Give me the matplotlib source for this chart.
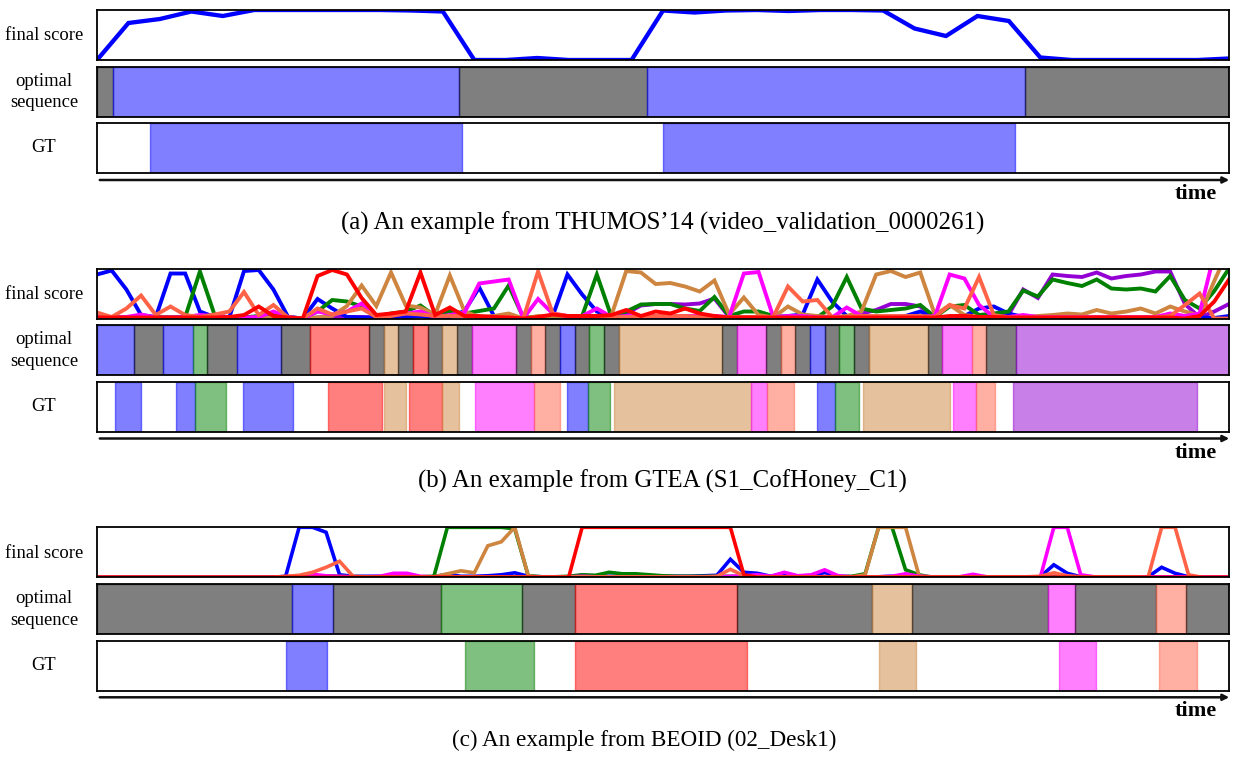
import numpy as np
import matplotlib.pyplot as plt

plt.rcParams['font.family'] = ['Liberation Serif', 'DejaVu Serif']

# ---------------- data ----------------
# class -> base colour (segments are drawn at alpha 0.5)
cls_color = {'bg': 'black', 'blue': 'blue', 'green': 'green', 'red': 'red',
             'peru': 'peru', 'magenta': 'magenta', 'tomato': 'tomato',
             'purple': 'darkviolet'}
line_order = ['purple', 'blue', 'green', 'peru', 'magenta', 'tomato', 'red']

# (a) THUMOS'14, 37 snippets
score_a = {'blue': [0.00, 0.74, 0.82, 0.97, 0.88, 1.00, 1.00, 1.00, 1.00, 1.00,
                    0.99, 0.97, 0.00, 0.00, 0.04, 0.00, 0.00, 0.00, 0.99, 0.95,
                    0.99, 1.00, 0.98, 1.00, 1.00, 0.99, 0.63, 0.48, 0.88, 0.78,
                    0.05, 0.00, 0.00, 0.00, 0.00, 0.00, 0.03]}
opt_a = [(0, 0.5, 'bg'), (0.5, 11.5, 'blue'), (11.5, 17.5, 'bg'),
         (17.5, 29.5, 'blue'), (29.5, 36, 'bg')]
gt_a = [(1.7, 11.6, 'blue'), (18.0, 29.2, 'blue')]

# (b) GTEA S1_CofHoney_C1, 78 snippets
blue_b = [0.88, 0.96, 0.58, 0.07, 0.03, 0.90, 0.90, 0.14, 0.03, 0.02,
          0.95, 0.97, 0.58, 0.03, 0.00, 0.39, 0.20, 0.03, 0.02, 0.02,
          0.02, 0.03, 0.05, 0.02, 0.03, 0.15, 0.62, 0.05, 0.02, 0.00,
          0.02, 0.05, 0.88, 0.48, 0.14, 0.03, 0.02, 0.02, 0.02, 0.02,
          0.03, 0.02, 0.03, 0.02, 0.02, 0.03, 0.02, 0.05, 0.08, 0.78,
          0.34, 0.05, 0.02, 0.02, 0.02, 0.05, 0.14, 0.02, 0.02, 0.05,
          0.20, 0.24, 0.10, 0.03, 0.02, 0.02, 0.02, 0.02, 0.02, 0.02,
          0.02, 0.02, 0.03, 0.05, 0.03, 0.02, 0.01, 0.05]
green_b = [0.02, 0.02, 0.02, 0.02, 0.03, 0.02, 0.03, 0.94, 0.07, 0.02,
           0.02, 0.05, 0.07, 0.03, 0.00, 0.14, 0.37, 0.34, 0.24, 0.03,
           0.10, 0.14, 0.26, 0.05, 0.15, 0.10, 0.15, 0.20, 0.66, 0.02,
           0.03, 0.03, 0.05, 0.05, 0.88, 0.03, 0.14, 0.28, 0.29, 0.29,
           0.20, 0.15, 0.43, 0.05, 0.14, 0.14, 0.05, 0.03, 0.03, 0.02,
           0.24, 0.83, 0.20, 0.14, 0.17, 0.20, 0.27, 0.03, 0.24, 0.27,
           0.07, 0.10, 0.14, 0.56, 0.44, 0.78, 0.71, 0.65, 0.78, 0.60,
           0.58, 0.60, 0.54, 0.85, 0.37, 0.20, 0.55, 1.00]
red_b = [0.02, 0.02, 0.02, 0.02, 0.02, 0.02, 0.02, 0.02, 0.02, 0.03,
         0.07, 0.24, 0.05, 0.02, 0.00, 0.85, 0.97, 0.88, 0.41, 0.07,
         0.10, 0.14, 0.92, 0.07, 0.22, 0.05, 0.05, 0.03, 0.02, 0.00,
         0.03, 0.08, 0.05, 0.05, 0.05, 0.07, 0.17, 0.05, 0.14, 0.10,
         0.20, 0.10, 0.05, 0.02, 0.02, 0.02, 0.02, 0.02, 0.02, 0.02,
         0.02, 0.02, 0.02, 0.02, 0.02, 0.02, 0.02, 0.02, 0.05, 0.05,
         0.03, 0.03, 0.02, 0.02, 0.02, 0.02, 0.02, 0.02, 0.02, 0.02,
         0.02, 0.02, 0.02, 0.02, 0.00, 0.05, 0.34, 0.78]
peru_b = [0.01, 0.01, 0.01, 0.02, 0.01, 0.01, 0.01, 0.02, 0.01, 0.01,
          0.01, 0.02, 0.02, 0.01, 0.00, 0.02, 0.05, 0.25, 0.66, 0.25,
          0.92, 0.26, 0.22, 0.08, 0.86, 0.14, 0.03, 0.05, 0.10, 0.00,
          0.05, 0.05, 0.05, 0.05, 0.05, 0.07, 0.95, 0.92, 0.69, 0.71,
          0.64, 0.54, 0.76, 0.08, 0.42, 0.07, 0.02, 0.24, 0.08, 0.05,
          0.03, 0.05, 0.14, 0.88, 0.95, 0.83, 0.92, 0.07, 0.27, 0.07,
          0.03, 0.03, 0.03, 0.03, 0.05, 0.07, 0.10, 0.08, 0.17, 0.10,
          0.14, 0.20, 0.10, 0.24, 0.14, 0.06, 0.75, 1.40]
magenta_b = [0.02, 0.02, 0.03, 0.08, 0.02, 0.02, 0.03, 0.07, 0.05, 0.03,
             0.02, 0.03, 0.14, 0.03, 0.00, 0.14, 0.08, 0.14, 0.30, 0.03,
             0.07, 0.10, 0.14, 0.03, 0.07, 0.12, 0.70, 0.74, 0.78, 0.00,
             0.39, 0.10, 0.05, 0.05, 0.20, 0.03, 0.05, 0.05, 0.05, 0.05,
             0.05, 0.05, 0.05, 0.03, 0.90, 0.93, 0.03, 0.05, 0.05, 0.02,
             0.02, 0.22, 0.05, 0.03, 0.03, 0.03, 0.03, 0.05, 0.88, 0.80,
             0.27, 0.03, 0.03, 0.07, 0.03, 0.03, 0.03, 0.03, 0.03, 0.03,
             0.03, 0.03, 0.03, 0.10, 0.05, 0.10, 1.30, 1.50]
tomato_b = [0.12, 0.03, 0.20, 0.46, 0.07, 0.24, 0.07, 0.03, 0.08, 0.14,
            0.53, 0.07, 0.27, 0.02, 0.00, 0.20, 0.08, 0.14, 0.20, 0.03,
            0.05, 0.10, 0.08, 0.05, 0.05, 0.05, 0.03, 0.03, 0.03, 0.00,
            0.94, 0.10, 0.05, 0.05, 0.05, 0.03, 0.03, 0.03, 0.05, 0.05,
            0.05, 0.03, 0.03, 0.03, 0.03, 0.03, 0.03, 0.64, 0.34, 0.37,
            0.03, 0.03, 0.05, 0.05, 0.05, 0.05, 0.05, 0.03, 0.27, 0.20,
            0.83, 0.07, 0.02, 0.02, 0.02, 0.02, 0.02, 0.02, 0.02, 0.02,
            0.02, 0.02, 0.02, 0.05, 0.27, 0.50, 0.00, 0.00]
purple_b = [0.02, 0.02, 0.02, 0.02, 0.02, 0.02, 0.02, 0.02, 0.02, 0.02,
            0.02, 0.02, 0.02, 0.02, 0.00, 0.02, 0.03, 0.03, 0.03, 0.02,
            0.03, 0.05, 0.05, 0.03, 0.05, 0.05, 0.03, 0.02, 0.02, 0.00,
            0.02, 0.02, 0.02, 0.02, 0.02, 0.02, 0.10, 0.26, 0.29, 0.29,
            0.28, 0.30, 0.40, 0.03, 0.03, 0.02, 0.02, 0.02, 0.02, 0.02,
            0.02, 0.02, 0.10, 0.17, 0.29, 0.29, 0.24, 0.03, 0.03, 0.02,
            0.02, 0.03, 0.07, 0.58, 0.41, 0.88, 0.85, 0.83, 0.92, 0.80,
            0.85, 0.88, 0.94, 0.94, 0.29, 0.02, 0.14, 0.29]
score_b = {'blue': blue_b, 'green': green_b, 'red': red_b, 'peru': peru_b,
           'magenta': magenta_b, 'tomato': tomato_b, 'purple': purple_b}
opt_b = [(0, 2.5, 'blue'), (2.5, 4.5, 'bg'), (4.5, 6.5, 'blue'), (6.5, 7.5, 'green'),
         (7.5, 9.5, 'bg'), (9.5, 12.5, 'blue'), (12.5, 14.5, 'bg'), (14.5, 18.5, 'red'),
         (18.5, 19.5, 'bg'), (19.5, 20.5, 'peru'), (20.5, 21.5, 'bg'), (21.5, 22.5, 'red'),
         (22.5, 23.5, 'bg'), (23.5, 24.5, 'peru'), (24.5, 25.5, 'bg'), (25.5, 28.5, 'magenta'),
         (28.5, 29.5, 'bg'), (29.5, 30.5, 'tomato'), (30.5, 31.5, 'bg'), (31.5, 32.5, 'blue'),
         (32.5, 33.5, 'bg'), (33.5, 34.5, 'green'), (34.5, 35.5, 'bg'), (35.5, 42.5, 'peru'),
         (42.5, 43.5, 'bg'), (43.5, 45.5, 'magenta'), (45.5, 46.5, 'bg'), (46.5, 47.5, 'tomato'),
         (47.5, 48.5, 'bg'), (48.5, 49.5, 'blue'), (49.5, 50.5, 'bg'), (50.5, 51.5, 'green'),
         (51.5, 52.5, 'bg'), (52.5, 56.5, 'peru'), (56.5, 57.5, 'bg'), (57.5, 59.5, 'magenta'),
         (59.5, 60.5, 'tomato'), (60.5, 62.5, 'bg'), (62.5, 77, 'purple')]
gt_b = [(1.2, 3.0, 'blue'), (5.4, 6.7, 'blue'), (6.7, 8.8, 'green'), (9.9, 13.3, 'blue'),
        (15.7, 19.4, 'red'), (19.5, 21.0, 'peru'), (21.2, 23.5, 'red'), (23.5, 24.6, 'peru'),
        (25.7, 29.7, 'magenta'), (29.7, 31.5, 'tomato'), (32.0, 33.4, 'blue'),
        (33.4, 34.9, 'green'), (35.2, 44.5, 'peru'), (44.5, 45.6, 'magenta'),
        (45.6, 47.4, 'tomato'), (49.0, 50.2, 'blue'), (50.2, 51.8, 'green'),
        (52.1, 58.0, 'peru'), (58.2, 59.8, 'magenta'), (59.8, 61.1, 'tomato'),
        (62.3, 74.8, 'purple')]

# (c) BEOID 02_Desk1, 85 snippets
blue_c = [0, 0, 0, 0, 0, 0, 0, 0, 0, 0,
          0, 0, 0, 0, 0.02, 1.00, 1.00, 0.90, 0.05, 0.02,
          0.02, 0.02, 0.03, 0.02, 0.01, 0.01, 0.06, 0.02, 0.02, 0.03,
          0.05, 0.09, 0.02, 0.01, 0.01, 0.01, 0.04, 0.02, 0.02, 0.02,
          0.02, 0.02, 0.02, 0.02, 0.02, 0.03, 0.04, 0.36, 0.10, 0.08,
          0.02, 0.08, 0.02, 0.02, 0.10, 0.02, 0.01, 0.01, 0.01, 0.02,
          0.02, 0.01, 0.01, 0.01, 0.01, 0.01, 0.01, 0.01, 0.01, 0.01,
          0.01, 0.25, 0.08, 0.01, 0.01, 0.01, 0.01, 0.01, 0.01, 0.20,
          0.08, 0.01, 0.01, 0.01, 0.01]
green_c = [0, 0, 0, 0, 0, 0, 0, 0, 0, 0,
           0, 0, 0, 0, 0.01, 0.02, 0.03, 0.03, 0.02, 0.01,
           0.01, 0.01, 0.01, 0.01, 0.01, 0.02, 1.00, 1.00, 1.00, 1.00,
           1.00, 0.97, 0.03, 0.01, 0.01, 0.02, 0.05, 0.04, 0.10, 0.07,
           0.07, 0.05, 0.03, 0.02, 0.02, 0.02, 0.02, 0.02, 0.01, 0.01,
           0.01, 0.01, 0.01, 0.01, 0.01, 0.01, 0.02, 0.07, 1.00, 1.00,
           0.15, 0.05, 0, 0, 0, 0, 0, 0, 0, 0,
           0, 0, 0, 0, 0, 0, 0, 0, 0, 0,
           0, 0, 0, 0, 0]
red_c = [0, 0, 0, 0, 0, 0, 0, 0, 0, 0,
         0, 0, 0, 0, 0, 0, 0, 0, 0, 0,
         0, 0, 0, 0, 0, 0, 0, 0, 0, 0,
         0, 0, 0, 0, 0, 0, 1.00, 1.00, 1.00, 1.00,
         1.00, 1.00, 1.00, 1.00, 1.00, 1.00, 1.00, 1.00, 0.05, 0,
         0, 0, 0, 0, 0, 0, 0, 0, 0, 0,
         0, 0, 0, 0, 0, 0, 0, 0, 0, 0,
         0, 0, 0, 0, 0, 0, 0, 0, 0, 0,
         0, 0, 0, 0, 0]
peru_c = [0, 0, 0, 0, 0, 0, 0, 0, 0, 0,
          0, 0, 0, 0, 0, 0, 0, 0, 0, 0,
          0, 0, 0, 0, 0, 0.01, 0.07, 0.13, 0.09, 0.63,
          0.71, 1.00, 0.03, 0, 0, 0, 0, 0, 0, 0,
          0, 0, 0, 0, 0, 0, 0, 0, 0, 0,
          0, 0, 0, 0, 0, 0, 0.01, 0.05, 1.00, 1.00,
          1.00, 0.03, 0, 0, 0, 0, 0, 0, 0, 0,
          0, 0, 0, 0, 0, 0, 0, 0, 0, 0,
          0, 0, 0, 0, 0]
magenta_c = [0, 0, 0, 0, 0, 0, 0, 0, 0, 0,
             0, 0, 0, 0, 0.01, 0.02, 0.06, 0.03, 0.02, 0.01,
             0.01, 0.02, 0.08, 0.08, 0.02, 0.01, 0.01, 0.01, 0.01, 0.01,
             0.01, 0.01, 0.01, 0.01, 0.01, 0.01, 0.02, 0.01, 0.01, 0.01,
             0.01, 0.01, 0.01, 0.01, 0.01, 0.01, 0.01, 0.02, 0.03, 0.05,
             0.02, 0.10, 0.03, 0.05, 0.15, 0.03, 0.01, 0.01, 0.01, 0.02,
             0.07, 0.02, 0.01, 0.01, 0.01, 0.06, 0.01, 0.01, 0.01, 0.01,
             0.00, 1.00, 1.00, 0.05, 0.01, 0.01, 0.01, 0.01, 0.01, 0.01,
             0.01, 0.01, 0.01, 0.01, 0.01]
tomato_c = [0, 0, 0, 0, 0, 0, 0, 0, 0, 0,
            0, 0, 0, 0, 0.02, 0.04, 0.10, 0.20, 0.32, 0.02,
            0.01, 0.01, 0.01, 0.01, 0.01, 0.01, 0.01, 0.01, 0.01, 0.01,
            0.01, 0.01, 0.01, 0.01, 0.01, 0.01, 0.01, 0.01, 0.01, 0.01,
            0.01, 0.01, 0.01, 0.01, 0.01, 0.01, 0.02, 0.16, 0.03, 0.01,
            0.01, 0.01, 0.01, 0.01, 0.01, 0.01, 0.01, 0.01, 0.01, 0.01,
            0.01, 0.01, 0.01, 0.01, 0.01, 0.01, 0.01, 0.01, 0.01, 0.01,
            0.02, 0.09, 0.03, 0.01, 0.01, 0.01, 0.01, 0.01, 0.00, 1.00,
            1.00, 0.05, 0.00, 0.00, 0.00]
purple_c = [0, 0, 0, 0, 0, 0, 0, 0, 0, 0,
            0, 0, 0, 0, 0.01, 0.01, 0.02, 0.01, 0.01, 0.01,
            0.01, 0.01, 0.02, 0.02, 0.01, 0.01, 0.01, 0.01, 0.01, 0.01,
            0.01, 0.01, 0.01, 0.01, 0.01, 0.01, 0.01, 0.01, 0.01, 0.01,
            0.01, 0.01, 0.01, 0.01, 0.01, 0.01, 0.01, 0.01, 0.01, 0.01,
            0.01, 0.02, 0.01, 0.01, 0.02, 0.01, 0.01, 0.01, 0.01, 0.01,
            0.01, 0.01, 0.01, 0.01, 0.01, 0.01, 0.01, 0.01, 0.01, 0.01,
            0.01, 0.02, 0.02, 0.01, 0.01, 0.01, 0.01, 0.01, 0.01, 0.01,
            0.01, 0.01, 0.01, 0.01, 0.01]
score_c = {'blue': blue_c, 'green': green_c, 'red': red_c, 'peru': peru_c,
           'magenta': magenta_c, 'tomato': tomato_c, 'purple': purple_c}
opt_c = [(0, 14.5, 'bg'), (14.5, 17.5, 'blue'), (17.5, 25.5, 'bg'), (25.5, 31.5, 'green'),
         (31.5, 35.5, 'bg'), (35.5, 47.5, 'red'), (47.5, 57.5, 'bg'), (57.5, 60.5, 'peru'),
         (60.5, 70.6, 'bg'), (70.6, 72.6, 'magenta'), (72.6, 78.6, 'bg'),
         (78.6, 80.8, 'tomato'), (80.8, 84, 'bg')]
gt_c = [(14.0, 17.1, 'blue'), (27.3, 32.4, 'green'), (35.5, 48.2, 'red'),
        (58.0, 60.8, 'peru'), (71.4, 74.1, 'magenta'), (78.8, 81.6, 'tomato')]

panels = [
    (10, score_a, opt_a, gt_a, 3.1, 663, 17.9,
     '(a) An example from THUMOS\u201914 (video_validation_0000261)'),
    (268.5, score_b, opt_b, gt_b, 2.8, 662, 17.9,
     '(b) An example from GTEA (S1_CofHoney_C1)'),
    (527.3, score_c, opt_c, gt_c, 2.6, 644, 16.7,
     '(c) An example from BEOID (02_Desk1)'),
]

# ---------------- drawing ----------------
W, H = 1240, 760
fig = plt.figure(figsize=(12.4, 7.6), dpi=100)


def rect(top, h=50):
    return [97 / W, 1 - (top + h) / H, 1132 / W, h / H]


def style(ax, xmax):
    ax.set_xlim(0, xmax)
    ax.set_ylim(0, 1)
    ax.set_xticks([])
    ax.set_yticks([])
    for s in ax.spines.values():
        s.set_linewidth(1.3)
        s.set_zorder(5)


for top, scores, opt, gt, lw, cap_x, cap_fs, caption in panels:
    n = len(next(iter(scores.values())))
    x = np.arange(n)
    xmax = n - 1

    ax1 = fig.add_axes(rect(top))
    for c in line_order:
        if c in scores:
            ax1.plot(x, scores[c], color=cls_color[c], lw=lw, solid_joinstyle='miter')
    style(ax1, xmax)

    ax2 = fig.add_axes(rect(top + 56.7))
    for s, e, c in opt:
        ax2.axvspan(s, e, facecolor=cls_color[c], edgecolor=cls_color[c], alpha=0.5, lw=1)
    style(ax2, xmax)

    ax3 = fig.add_axes(rect(top + 113.3))
    for s, e, c in gt:
        ax3.axvspan(s, e, facecolor=cls_color[c], edgecolor=cls_color[c], alpha=0.5, lw=1)
    style(ax3, xmax)

    # row labels
    fig.text(44 / W, 1 - (top + 26) / H, 'final score', ha='center', va='center', fontsize=13.4)
    fig.text(44 / W, 1 - (top + 82) / H, 'optimal\nsequence', ha='center', va='center',
             fontsize=13.4, linespacing=1.35)
    fig.text(44 / W, 1 - (top + 138) / H, 'GT', ha='center', va='center', fontsize=13.4)

    # time arrow
    ya = 1 - (top + 170) / H
    ax3.annotate('', xy=(1232 / W, ya), xytext=(97 / W, ya), xycoords='figure fraction',
                 textcoords='figure fraction', annotation_clip=False,
                 arrowprops=dict(arrowstyle='-|>', color='#111111', lw=1.8, mutation_scale=9))
    fig.text(1196 / W, 1 - (top + 184) / H, 'time', ha='center', va='center',
             fontsize=16, fontweight='bold')
    fig.text(cap_x / W, 1 - (top + 213) / H, caption, ha='center', va='center', fontsize=cap_fs)

fig.savefig('out.png', dpi=100)
